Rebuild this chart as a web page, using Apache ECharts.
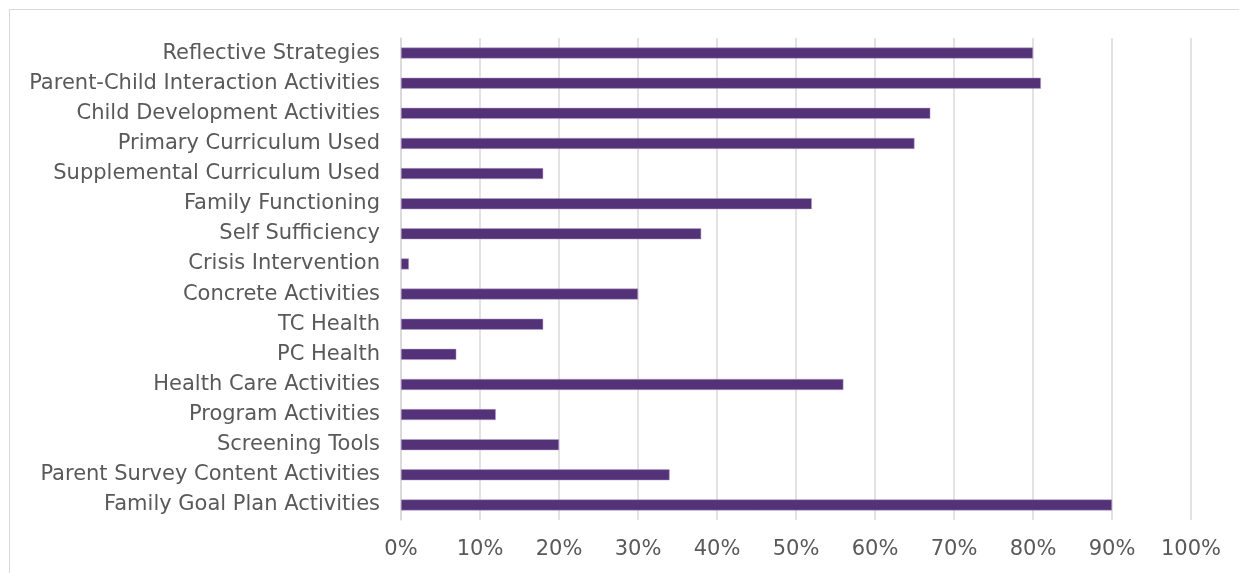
<!DOCTYPE html>
<html>
<head>
<meta charset="utf-8">
<script src="https://cdn.jsdelivr.net/npm/echarts@6/dist/echarts.min.js"></script>
<style>
  html, body { margin: 0; padding: 0; background: #fff; }
  #frame { position: absolute; left: 9px; top: 9px; width: 1240px; height: 570px; border-left: 1px solid #d9d9d9; border-top: 1px solid #d9d9d9; }
  #chart { position: absolute; left: 0; top: 0; width: 1239px; height: 573px; }
</style>
</head>
<body>
<div id="frame"></div>
<div id="chart"></div>
<script>
// categories listed bottom to top (as ECharts draws a y category axis)
var categories = [
  'Family Goal Plan Activities',
  'Parent Survey Content Activities',
  'Screening Tools',
  'Program Activities',
  'Health Care Activities',
  'PC Health',
  'TC Health',
  'Concrete Activities',
  'Crisis Intervention',
  'Self Sufficiency',
  'Family Functioning',
  'Supplemental Curriculum Used',
  'Primary Curriculum Used',
  'Child Development Activities',
  'Parent-Child Interaction Activities',
  'Reflective Strategies'
];
var percents = [90, 34, 20, 12, 56, 7, 18, 30, 1, 38, 52, 18, 65, 67, 81, 80];

var myChart = echarts.init(document.getElementById('chart'));

var option = {
  animation: false,
  grid: { left: 401, right: 48, top: 38, bottom: 53, containLabel: false },
  xAxis: {
    type: 'value',
    min: 0,
    max: 100,
    interval: 10,
    axisLine: { show: false },
    axisTick: { show: false },
    axisLabel: {
      formatter: '{value}%',
      color: '#595959',
      fontSize: 21,
      fontFamily: 'DejaVu Sans',
      margin: 19
    },
    splitLine: { lineStyle: { color: '#d9d9d9', width: 1.5 } }
  },
  yAxis: {
    type: 'category',
    data: categories,
    axisLine: { show: true, lineStyle: { color: '#d9d9d9', width: 1.5 } },
    axisTick: { show: false },
    axisLabel: {
      color: '#595959',
      fontSize: 21,
      fontFamily: 'DejaVu Sans',
      margin: 21
    }
  },
  series: [{
    type: 'bar',
    data: percents,
    barWidth: 11,
    itemStyle: { color: '#543278', borderColor: '#b8a3cf', borderWidth: 0.5 }
  }]
};

myChart.setOption(option);
</script>
</body>
</html>
